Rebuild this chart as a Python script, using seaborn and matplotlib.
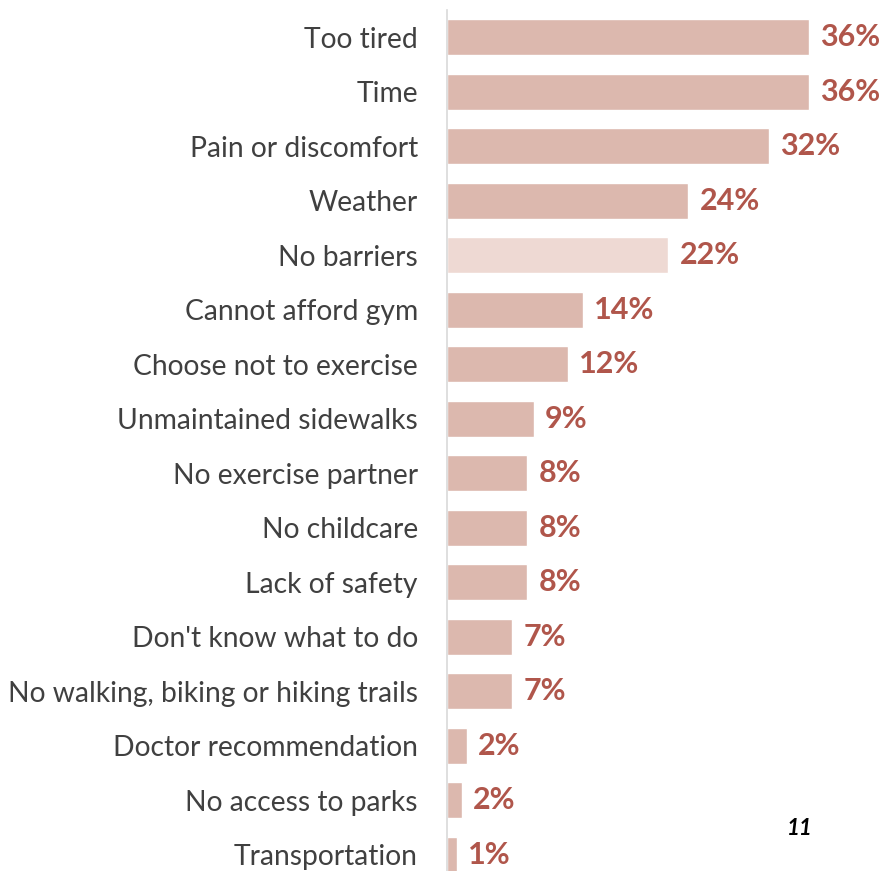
import matplotlib
matplotlib.use("Agg")
import matplotlib.pyplot as plt
import seaborn as sns
import pandas as pd

categories = ["Too tired", "Time", "Pain or discomfort", "Weather", "No barriers",
              "Cannot afford gym", "Choose not to exercise", "Unmaintained sidewalks",
              "No exercise partner", "No childcare", "Lack of safety",
              "Don't know what to do", "No walking, biking or hiking trails",
              "Doctor recommendation", "No access to parks", "Transportation"]
values = [36, 36, 32, 24, 22, 13.5, 12, 8.6, 8, 8, 8, 6.5, 6.5, 2, 1.5, 1]
value_labels = ["36%", "36%", "32%", "24%", "22%", "14%", "12%", "9%", "8%", "8%",
                "8%", "7%", "7%", "2%", "2%", "1%"]
page_number = "11"

sns.set_theme(style="white")
plt.rcParams['font.family'] = ['Lato', 'DejaVu Sans']

bar_color = "#dcb8ae"
light_color = "#eed9d3"
palette = [light_color if c == "No barriers" else bar_color for c in categories]

df = pd.DataFrame({"category": categories, "value": values})

fig = plt.figure(figsize=(8.82, 8.71), dpi=100)
ax = fig.add_axes([447 / 882, 0, 435 / 882, 861.25 / 871])

sns.barplot(data=df, x="value", y="category", hue="category", palette=palette,
            orient="h", width=0.66, legend=False, ax=ax, saturation=1)

ax.set_xlim(0, 435 / 10.06)
ax.set_ylim(15 + 16 / 54.5, -0.5)
ax.set_xlabel("")
ax.set_ylabel("")
ax.set_xticks([])
for s in ["top", "right", "bottom"]:
    ax.spines[s].set_visible(False)
ax.spines["left"].set_color("#d9d9d9")
ax.spines["left"].set_linewidth(1.2)
ax.tick_params(axis="y", length=0, pad=21, labelsize=20.3, labelcolor="#404040")

for i, (v, lab) in enumerate(zip(values, value_labels)):
    ax.text(v + 1.1, i, lab, va="center", ha="left", fontsize=22,
            fontweight="bold", color="#b0564b")

fig.text(800 / 882, 1 - 828 / 871, page_number, fontsize=16, fontweight="bold",
         fontstyle="italic", color="black", ha="center", va="center")

fig.savefig("out.png", dpi=100)
